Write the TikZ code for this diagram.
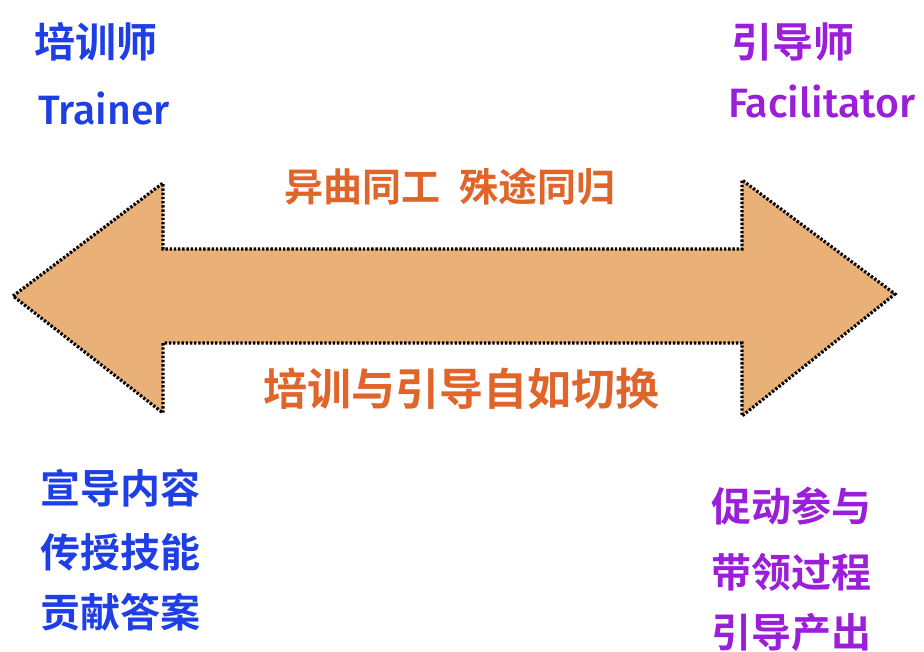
\documentclass[tikz,border=0pt]{standalone}
\usepackage{fontspec}
\newfontfamily\cjk{Noto Sans CJK SC Bold}
\newfontfamily\latin{Fira Sans}[UprightFont={* Medium}]
\definecolor{arrowfill}{HTML}{E9B077}
\definecolor{tblue}{HTML}{1E3FE6}
\definecolor{fpurple}{HTML}{9B1FD9}
\definecolor{morange}{HTML}{E0652A}
\tikzset{
  bluetxt/.style={text=tblue, inner sep=0pt},
  purptxt/.style={text=fpurple, inner sep=0pt},
  orgtxt/.style={text=morange, inner sep=0pt},
  dotborder/.style={draw=black, line width=3.2pt, line cap=butt, dash pattern=on 2.4pt off 1.8pt}
}
\begin{document}
\begin{tikzpicture}[x=1pt,y=-1pt]
\useasboundingbox (0,0) rectangle (924,651);
\fill[white] (0,0) rectangle (924,651);
% double arrow
\filldraw[fill=arrowfill, dotborder]
  (13,296) -- (163,183) -- (163,249) -- (742,249) -- (742,180) -- (895,294)
  -- (742,416) -- (742,343) -- (163,343) -- (163,413) -- cycle;
% top labels
\node[bluetxt, anchor=west, font=\cjk\fontsize{41}{43}\selectfont] (trcn) at (34,42) {培训师};
\node[bluetxt, anchor=west, font=\latin\fontsize{41}{43}\selectfont] (tren) at (38,108) {Trainer};
\node[purptxt, anchor=west, font=\cjk\fontsize{41}{43}\selectfont] (facn) at (731,42) {引导师};
\node[purptxt, anchor=west, font=\latin\fontsize{41}{43}\selectfont] (faen) at (728,101) {Facilitator};
% middle labels
\node[orgtxt, font=\cjk\fontsize{39}{41}\selectfont] (t1) at (450,187) {异曲同工\hspace{0.5em}殊途同归};
\node[orgtxt, font=\cjk\fontsize{44}{46}\selectfont] (t2) at (461,389) {培训与引导自如切换};
% bottom left
\node[bluetxt, anchor=west, font=\cjk\fontsize{40}{42}\selectfont] (l1) at (40,488) {宣导内容};
\node[bluetxt, anchor=west, font=\cjk\fontsize{40}{42}\selectfont] (l2) at (40,552) {传授技能};
\node[bluetxt, anchor=west, font=\cjk\fontsize{40}{42}\selectfont] (l3) at (40,612) {贡献答案};
% bottom right
\node[purptxt, anchor=west, font=\cjk\fontsize{40}{42}\selectfont] (r1) at (711,506) {促动参与};
\node[purptxt, anchor=west, font=\cjk\fontsize{40}{42}\selectfont] (r2) at (711,572) {带领过程};
\node[purptxt, anchor=west, font=\cjk\fontsize{40}{42}\selectfont] (r3) at (711,632) {引导产出};
\end{tikzpicture}
\end{document}
